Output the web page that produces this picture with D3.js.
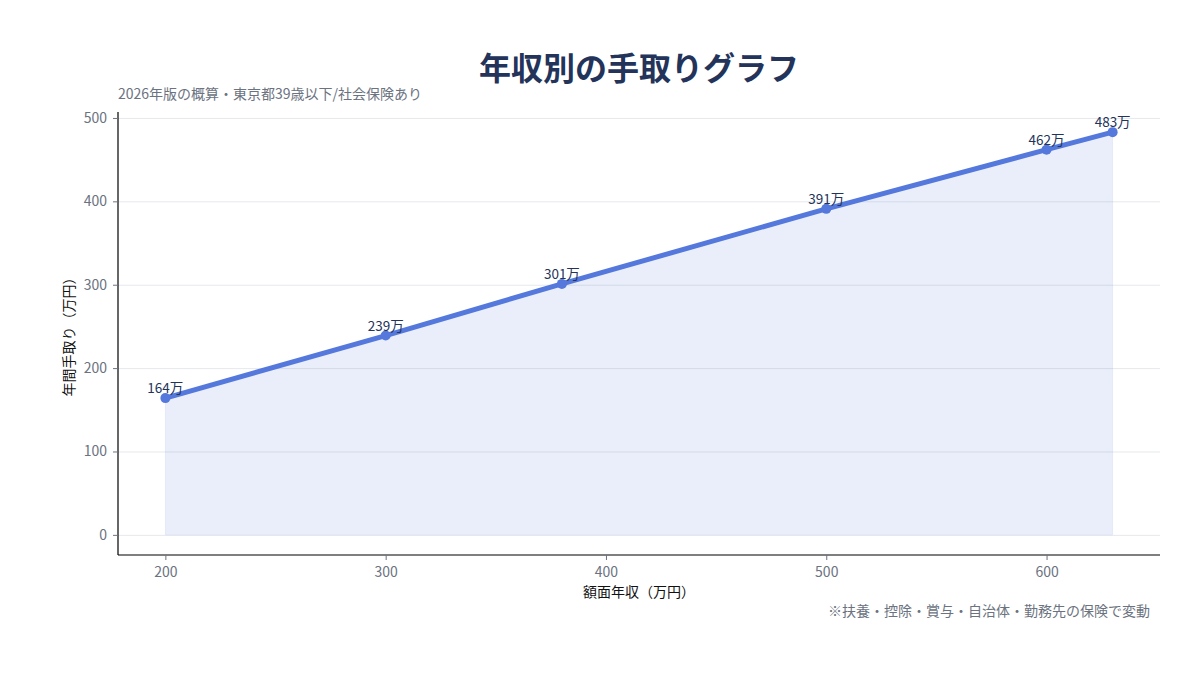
<!DOCTYPE html>
<html lang="ja">
<head>
<meta charset="UTF-8">
<script src="https://d3js.org/d3.v7.min.js"></script>
<style>
    body { margin: 0; background: #fff; font-family: "Noto Sans CJK JP", "Noto Sans", sans-serif; }
    .grid line { stroke: #e6e8ec; stroke-width: 1px; }
    .grid path { display: none; }
    .axis text { font-size: 14px; fill: #6b7280; font-family: "Noto Sans CJK JP", sans-serif; }
    .axis line { stroke: #6b7280; }
    .pt-label { font-size: 13.5px; fill: #23335a; }
</style>
</head>
<body>
<div id="chart"></div>
<script>
    // 額面年収（万円）と手取り（万円）
    const grossIncome = [200, 300, 380, 500, 600, 630];
    const takeHome = [164, 239, 301, 391, 462, 483];
    const xTicks = [200, 300, 400, 500, 600];
    const yTicks = [0, 100, 200, 300, 400, 500];

    const W = 1200, H = 680;
    const margin = {top: 112, right: 40, bottom: 125, left: 118};
    const width = W - margin.left - margin.right,
          height = H - margin.top - margin.bottom;

    const data = grossIncome.map((g, i) => ({g, t: takeHome[i]}));

    const svg = d3.select("#chart").append("svg")
        .attr("width", W).attr("height", H);
    const g = svg.append("g").attr("transform", `translate(${margin.left},${margin.top})`);

    // matplotlib風の5%マージン
    const xPad = (d3.max(grossIncome) - d3.min(grossIncome)) * 0.05;
    const yPad = d3.max(takeHome) * 0.05;
    const x = d3.scaleLinear()
        .domain([d3.min(grossIncome) - xPad, d3.max(grossIncome) + xPad])
        .range([0, width]);
    const y = d3.scaleLinear()
        .domain([0 - yPad, d3.max(takeHome) + yPad])
        .range([height, 0]);

    // グリッド
    g.append("g").attr("class", "grid")
        .call(d3.axisLeft(y).tickValues(yTicks).tickSize(-width).tickFormat(""));

    // 面
    g.append("path")
        .datum(data)
        .attr("fill", "#5478dc").attr("fill-opacity", 0.13)
        .attr("stroke", "#5478dc").attr("stroke-opacity", 0.08)
        .attr("d", d3.area().x(d => x(d.g)).y0(y(0)).y1(d => y(d.t)));

    // 線
    g.append("path")
        .datum(data)
        .attr("fill", "none")
        .attr("stroke", "#5478dc")
        .attr("stroke-width", 5)
        .attr("stroke-linejoin", "round")
        .attr("d", d3.line().x(d => x(d.g)).y(d => y(d.t)));

    g.selectAll(".pt").data(data).enter().append("circle")
        .attr("class", "pt")
        .attr("cx", d => x(d.g)).attr("cy", d => y(d.t))
        .attr("r", 5).attr("fill", "#5478dc");

    g.selectAll(".pt-label").data(data).enter().append("text")
        .attr("class", "pt-label")
        .attr("x", d => x(d.g)).attr("y", d => y(d.t) - 5)
        .attr("text-anchor", "middle")
        .text(d => d.t + "万");

    // 軸
    const xAxis = g.append("g").attr("class", "axis")
        .attr("transform", `translate(0,${height})`)
        .call(d3.axisBottom(x).tickValues(xTicks).tickSize(5).tickPadding(7));
    xAxis.select(".domain").attr("stroke", "#000").attr("stroke-width", 1.2);

    const yAxis = g.append("g").attr("class", "axis")
        .call(d3.axisLeft(y).tickValues(yTicks).tickSize(5).tickPadding(6));
    yAxis.select(".domain").attr("stroke", "#000").attr("stroke-width", 1.2);
    // 上端・下端の外側ティックを消す
    xAxis.select(".domain").attr("d", `M0,0H${width}`);
    yAxis.select(".domain").attr("d", `M0,${height}V0`);

    // テキスト
    svg.append("text")
        .attr("x", margin.left + width / 2).attr("y", 80)
        .attr("text-anchor", "middle")
        .attr("font-size", 32).attr("font-weight", "bold").attr("fill", "#23335a")
        .text("年収別の手取りグラフ");

    svg.append("text")
        .attr("x", margin.left).attr("y", 99)
        .attr("font-size", 14).attr("fill", "#6b7280")
        .text("2026年版の概算・東京都39歳以下/社会保険あり");

    svg.append("text")
        .attr("x", margin.left + width / 2).attr("y", 597)
        .attr("text-anchor", "middle")
        .attr("font-size", 14).attr("fill", "#111")
        .text("額面年収（万円）");

    svg.append("text")
        .attr("transform", `translate(74,${margin.top + height / 2}) rotate(-90)`)
        .attr("text-anchor", "middle")
        .attr("font-size", 14).attr("fill", "#111")
        .text("年間手取り（万円）");

    svg.append("text")
        .attr("x", 1150).attr("y", 616)
        .attr("text-anchor", "end")
        .attr("font-size", 14).attr("fill", "#6b7280")
        .text("※扶養・控除・賞与・自治体・勤務先の保険で変動");
</script>
</body>
</html>
